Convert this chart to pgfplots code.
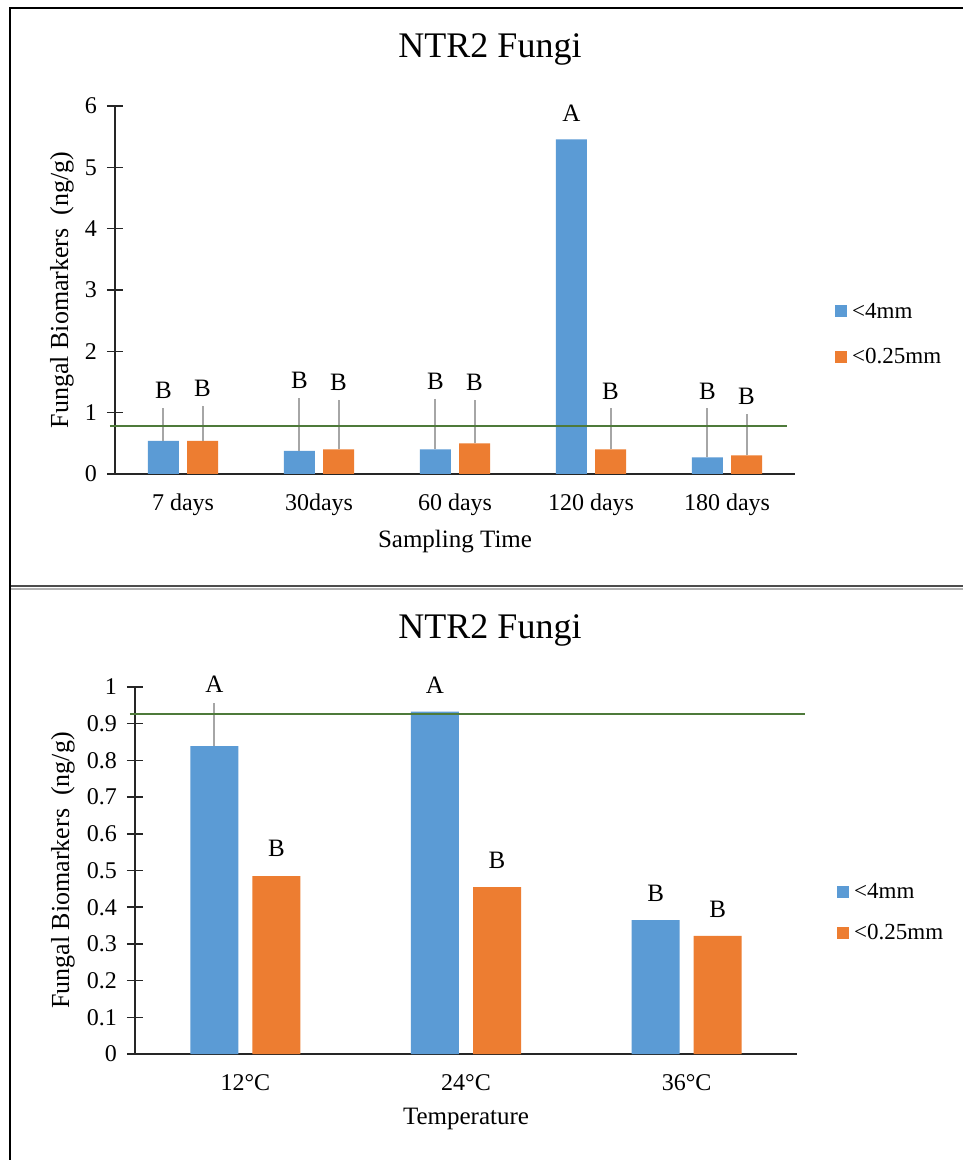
\documentclass[border=0pt]{standalone}
\usepackage{fontspec}
\setmainfont{Liberation Serif}
\usepackage{pgfplots}
\pgfplotsset{compat=1.18}
\usepackage{pgfplotstable}

\definecolor{barblue}{HTML}{5B9BD5}
\definecolor{barorange}{HTML}{ED7D31}
\definecolor{refgreen}{HTML}{4E7A3A}
\definecolor{errgray}{HTML}{A6A6A6}

\newcommand\tickfont{\fontsize{24}{28}\selectfont}
\newcommand\labfont{\fontsize{25}{29}\selectfont}
\newcommand\legfont{\fontsize{23}{27}\selectfont}
\newcommand\titlefont{\fontsize{36}{40}\selectfont}

% columns: position, mean, upper error, letter, gap above the letter (pt)
\pgfplotstableread{
x y err lab gap
0 0.538 0.538 B 9
1 0.375 0.864 B 9
2 0.402 0.821 B 9
3 5.457 0 A 18
4 0.272 0.799 B 9
}\timeCoarse
\pgfplotstableread{
x y err lab gap
0 0.538 0.571 B 9
1 0.402 0.805 B 9
2 0.500 0.707 B 9
3 0.402 0.669 B 9
4 0.305 0.673 B 9
}\timeFine
\pgfplotstableread{
x y err lab gap
0 0.839 0.117 A 10
1 0.933 0 A 18
2 0.365 0 B 18
}\tempCoarse
\pgfplotstableread{
x y err lab gap
0 0.485 0 B 19
1 0.455 0 B 18
2 0.322 0 B 18
}\tempFine

\pgfplotsset{
  panel/.style={
    scale only axis,
    axis lines=left,
    axis line style={-, line width=1.5pt, black!85},
    every tick/.style={line width=1.5pt, black!85},
    major tick length=16pt,
    tick align=center,
    major x tick style={draw=none},
    clip=false,
    /pgf/number format/assume math mode=true,
    tick label style={font=\tickfont, inner sep=0pt},
    xticklabel style={anchor=north, yshift=-12pt},
    yticklabel style={anchor=east, xshift=-10pt},
    ymin=0,
    legend cell align=left,
    legend image code/.code={\fill[##1,/tikz/.cd,draw=none] (0pt,-6pt) rectangle (12pt,6pt);},
  },
  % bars sit at category +/- an offset given in axis units
  sigbars/.style={
    ybar, bar shift=0pt, fill=#1, draw=none,
    point meta=explicit symbolic,
    nodes near coords,
    visualization depends on={\thisrow{err} \as \errval},
    visualization depends on={\thisrow{gap} \as \gapval},
    nodes near coords style={font=\labfont, text=black, anchor=south, inner sep=0pt,
      shift={(axis direction cs:0,\errval)}, yshift=\gapval pt},
    error bars/.cd, y dir=plus, y explicit, error mark=none,
      error bar style={draw=errgray, line width=2pt},
  },
}

\begin{document}
\begin{tikzpicture}[x=1pt,y=1pt]
\useasboundingbox (0,0) rectangle (963pt,1160pt);
\fill[white] (0,0) rectangle (963pt,1160pt);

% panel frames
\draw[black, line width=2pt] (10pt,0pt) -- (10pt,1152pt) -- (963pt,1152pt);
\draw[black!70, line width=2.5pt] (11pt,574pt) -- (963pt,574pt);
\draw[black!30, line width=2pt] (11pt,571pt) -- (963pt,571pt);

% sampling time
\begin{axis}[panel,
  at={(115pt,686pt)}, anchor=south west,
  width=680pt, height=368pt,
  bar width=31pt,
  xmin=-0.5, xmax=4.5, ymax=6,
  xtick={0,...,4},
  xticklabels={7 days,30days,60 days,120 days,180 days},
  ytick={0,...,6},
  title={NTR2 Fungi},
  title style={font=\titlefont, at={(axis description cs:0.5,1)}, anchor=base, yshift=42pt, xshift=35pt},
  xlabel={Sampling Time},
  xlabel style={font=\fontsize{25}{29}\selectfont, at={(axis description cs:0.5,0)}, anchor=north, inner sep=0pt, yshift=-56pt},
  ylabel={Fungal Biomarkers\ \ (ng/g)},
  ylabel style={font=\fontsize{26}{30}\selectfont, at={(axis description cs:0,0.5)}, anchor=center, inner sep=0pt, yshift=53pt},
  legend style={draw=none, fill=none, inner sep=0pt, at={(1.0588,0.380)}, anchor=west,
    font=\legfont, row sep=29pt, nodes={inner sep=0pt},
    /tikz/every odd column/.append style={column sep=5pt}},
]
\addplot[sigbars=barblue]
  table[x expr=\thisrow{x}-0.1434, y=y, y error plus=err, meta=lab]{\timeCoarse};
\addlegendentry{<4mm}
\addplot[sigbars=barorange]
  table[x expr=\thisrow{x}+0.1434, y=y, y error plus=err, meta=lab]{\timeFine};
\addlegendentry{<0.25mm}
\addplot[refgreen, line width=2pt, mark=none, forget plot]
  coordinates {(-0.537,0.78) (4.44,0.78)};
\end{axis}

% temperature
\begin{axis}[panel,
  at={(135pt,106pt)}, anchor=south west,
  width=662pt, height=367pt,
  bar width=48pt,
  xmin=-0.5, xmax=2.5, ymax=1,
  xtick={0,1,2},
  xticklabels={12°C,24°C,36°C},
  ytick={0,0.1,0.2,0.3,0.4,0.5,0.6,0.7,0.8,0.9,1},
  yticklabel style={/pgf/number format/fixed, /pgf/number format/precision=1},
  title={NTR2 Fungi},
  title style={font=\titlefont, at={(axis description cs:0.5,1)}, anchor=base, yshift=42pt, xshift=24pt},
  xlabel={Temperature},
  xlabel style={font=\fontsize{25}{29}\selectfont, at={(axis description cs:0.5,0)}, anchor=north, inner sep=0pt, yshift=-54pt},
  ylabel={Fungal Biomarkers\ \ (ng/g)},
  ylabel style={font=\fontsize{26}{30}\selectfont, at={(axis description cs:0,0.5)}, anchor=center, inner sep=0pt, yshift=72pt},
  legend style={draw=none, fill=none, inner sep=0pt, at={(1.0604,0.3856)}, anchor=west,
    font=\legfont, row sep=24pt, nodes={inner sep=0pt},
    /tikz/every odd column/.append style={column sep=5pt}},
]
\addplot[sigbars=barblue]
  table[x expr=\thisrow{x}-0.1405, y=y, y error plus=err, meta=lab]{\tempCoarse};
\addlegendentry{<4mm}
\addplot[sigbars=barorange]
  table[x expr=\thisrow{x}+0.1405, y=y, y error plus=err, meta=lab]{\tempFine};
\addlegendentry{<0.25mm}
\addplot[refgreen, line width=2pt, mark=none, forget plot]
  coordinates {(-0.523,0.926) (2.536,0.926)};
\end{axis}
\end{tikzpicture}
\end{document}
